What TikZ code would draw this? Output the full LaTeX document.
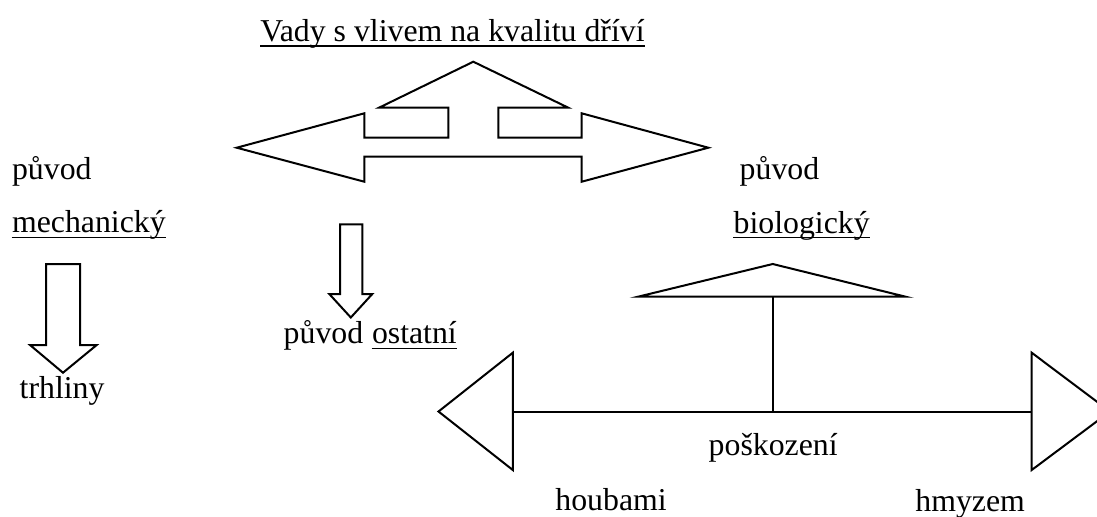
\documentclass[tikz,border=0pt]{standalone}
\usepackage{fontspec}
\setmainfont{Liberation Serif}
\begin{document}
\begin{tikzpicture}[x=0.5pt,y=-0.5pt,
  shape line/.style={line width=1pt, line join=miter},
  lbl/.style={inner sep=0pt, anchor=base west, font=\fontsize{15.9}{19}\selectfont},
  uline/.style={line width=0.75pt}]
\useasboundingbox (0,0) rectangle (1097,516);
\clip (0,0) rectangle (1097,516);

% texts
\node[lbl] (title) at (260,41.7) {Vady s vlivem na kvalitu dříví};
\node[lbl] (pL) at (11.7,179.3) {původ};
\node[lbl] (mech) at (11.7,232.7) {mechanický\hspace{0.25em}};
\node[lbl] (trh) at (19.3,398.3) {trhliny};
\node[lbl] (pO) at (283.3,343.3) {původ};
\node[lbl, anchor=base west] (ost) at ([xshift=4pt]pO.base east) {ostatní};
\node[lbl] (pR) at (739.3,179.3) {původ};
\node[lbl] (bio) at (733.3,233.3) {biologický};
\node[lbl] (posk) at (708.3,455) {poškození};
\node[lbl] (houb) at (555,510.7) {houbami};
\node[lbl] (hmyz) at (915,511.7) {hmyzem};

% underlines
\draw[uline] ([yshift=-2.1pt]title.base west) -- ([yshift=-2.1pt]title.base east);
\draw[uline] ([yshift=-2.5pt]mech.base west) -- ([yshift=-2.5pt]mech.base east);
\draw[uline] ([yshift=-2.5pt]ost.base west) -- ([yshift=-2.5pt]ost.base east);
\draw[uline] ([yshift=-2.2pt]bio.base west) -- ([yshift=-2.2pt]bio.base east);

% top three-way block arrow
\draw[shape line] (364.3,113.3) -- (364.3,137.7) -- (448.3,137.7) -- (448.3,107.7)
  -- (379,107.7) -- (473.3,61.7) -- (568.3,107.7) -- (498.3,107.7) -- (498.3,137.7)
  -- (581.7,137.7) -- (581.7,113.3) -- (708.3,147.7) -- (581.7,181.7) -- (581.7,156.7)
  -- (364.3,156.7) -- (364.3,181.7) -- (236.7,147.7) -- cycle;

% middle down block arrow
\draw[shape line] (340,224.3) -- (362.3,224.3) -- (362.3,294) -- (372.3,294)
  -- (350.8,317.5) -- (329.3,294) -- (340,294) -- cycle;

% left down block arrow
\draw[shape line] (46,264) -- (80,264) -- (80,345) -- (96.7,345)
  -- (63,372.7) -- (30,345) -- (46,345) -- cycle;

% umbrella structure
\coordinate (apex) at (772.7,264);
\coordinate (ubase) at (772.7,296.7);
\coordinate (hub) at (772.7,411.5);
\coordinate (lend) at (512.8,411.5);
\coordinate (rend) at (1031.7,411.5);
\draw[shape line] (638,296.7) -- (apex) -- (905.6,296.7) -- cycle;
\draw[shape line] (ubase) -- (hub);
\draw[shape line] (lend) -- (rend);
\draw[shape line] (512.8,352.7) -- (438.5,411.5) -- (512.8,470) -- cycle;
\draw[shape line] (1031.7,352.7) -- (1110,411.5) -- (1031.7,470) -- cycle;
\end{tikzpicture}
\end{document}
